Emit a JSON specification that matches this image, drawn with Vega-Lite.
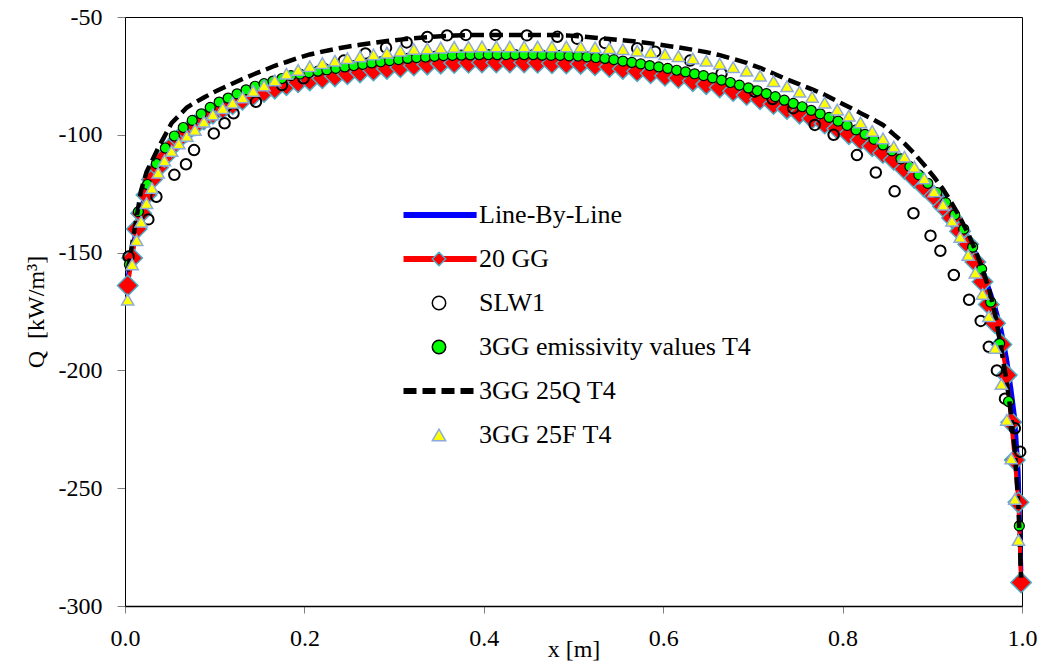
{
  "$schema": "https://vega.github.io/schema/vega-lite/v6.json",
  "width": 897,
  "height": 589,
  "autosize": {"type": "none"},
  "padding": {"left": 125, "top": 17, "right": 22, "bottom": 56},
  "background": "white",
  "config": {
    "font": "Liberation Serif",
    "view": {"stroke": "#000000", "strokeWidth": 1},
    "axis": {
      "grid": false,
      "domainColor": "#000000",
      "tickColor": "#808080",
      "labelColor": "#000000",
      "titleColor": "#000000",
      "labelFont": "Liberation Serif",
      "titleFont": "Liberation Serif",
      "labelFontSize": 24,
      "titleFontSize": 24,
      "titleFontWeight": "normal",
      "labelFlush": false
    }
  },
  "datasets": {
    "grid": [
      {"x":0.003,"lbl":-161,"gg":-164,"q25":-158,"f25":-170},
      {"x":0.008,"lbl":-150,"gg":-152.3,"q25":-146.3,"f25":-155},
      {"x":0.013,"lbl":-138,"gg":-140,"q25":-134.9,"f25":-144.7},
      {"x":0.018,"lbl":-131.3,"gg":-133.3,"q25":-123.5,"f25":-136.9},
      {"x":0.024,"lbl":-123.5,"gg":-125.5,"q25":-115.8,"f25":-129},
      {"x":0.030,"lbl":-117,"gg":-119,"q25":-111.1,"f25":-122.6},
      {"x":0.037,"lbl":-111.9,"gg":-113.9,"q25":-105.6,"f25":-116.1},
      {"x":0.044,"lbl":-107.4,"gg":-109.4,"q25":-100.7,"f25":-110.9},
      {"x":0.052,"lbl":-103,"gg":-105,"q25":-95,"f25":-106.9},
      {"x":0.060,"lbl":-99.7,"gg":-101.7,"q25":-91.9,"f25":-103.7},
      {"x":0.069,"lbl":-96.7,"gg":-98.7,"q25":-88.4,"f25":-100.5},
      {"x":0.078,"lbl":-94,"gg":-96,"q25":-86.3,"f25":-97.9},
      {"x":0.088,"lbl":-91.5,"gg":-93.5,"q25":-84.2,"f25":-94.4},
      {"x":0.098,"lbl":-89,"gg":-91,"q25":-82.1,"f25":-91.4},
      {"x":0.109,"lbl":-86.9,"gg":-88.9,"q25":-80.1,"f25":-88.7},
      {"x":0.120,"lbl":-85,"gg":-87,"q25":-78.2,"f25":-86.4},
      {"x":0.131,"lbl":-83.1,"gg":-85.1,"q25":-76.3,"f25":-84.1},
      {"x":0.143,"lbl":-81.2,"gg":-83.2,"q25":-74.4,"f25":-81.4},
      {"x":0.155,"lbl":-79.8,"gg":-81.8,"q25":-72.6,"f25":-79.1},
      {"x":0.167,"lbl":-78.4,"gg":-80.4,"q25":-70.7,"f25":-76.9},
      {"x":0.180,"lbl":-76.9,"gg":-78.9,"q25":-69.1,"f25":-74.1},
      {"x":0.193,"lbl":-75.7,"gg":-77.7,"q25":-67.4,"f25":-72.5},
      {"x":0.206,"lbl":-74.9,"gg":-76.9,"q25":-65.9,"f25":-70.9},
      {"x":0.220,"lbl":-74,"gg":-76,"q25":-64.7,"f25":-69.6},
      {"x":0.234,"lbl":-73.2,"gg":-75.2,"q25":-63.6,"f25":-68.6},
      {"x":0.248,"lbl":-72.3,"gg":-74.3,"q25":-62.6,"f25":-67.5},
      {"x":0.262,"lbl":-71.5,"gg":-73.5,"q25":-61.8,"f25":-66.7},
      {"x":0.277,"lbl":-70.7,"gg":-72.7,"q25":-61,"f25":-65.9},
      {"x":0.292,"lbl":-70,"gg":-72,"q25":-60.2,"f25":-65.1},
      {"x":0.307,"lbl":-69.3,"gg":-71.3,"q25":-59.6,"f25":-64.3},
      {"x":0.322,"lbl":-68.6,"gg":-70.6,"q25":-59,"f25":-63.6},
      {"x":0.337,"lbl":-68.2,"gg":-70.2,"q25":-58.6,"f25":-63.3},
      {"x":0.352,"lbl":-67.8,"gg":-69.8,"q25":-58.2,"f25":-63},
      {"x":0.367,"lbl":-67.5,"gg":-69.5,"q25":-57.9,"f25":-62.7},
      {"x":0.383,"lbl":-67.4,"gg":-69.4,"q25":-57.7,"f25":-62.6},
      {"x":0.398,"lbl":-67.3,"gg":-69.3,"q25":-57.6,"f25":-62.5},
      {"x":0.414,"lbl":-67.3,"gg":-69.3,"q25":-57.6,"f25":-62.5},
      {"x":0.429,"lbl":-67.3,"gg":-69.3,"q25":-57.6,"f25":-62.5},
      {"x":0.445,"lbl":-67.3,"gg":-69.3,"q25":-57.6,"f25":-62.5},
      {"x":0.460,"lbl":-67.4,"gg":-69.4,"q25":-57.6,"f25":-62.5},
      {"x":0.476,"lbl":-67.6,"gg":-69.6,"q25":-57.6,"f25":-62.5},
      {"x":0.492,"lbl":-67.7,"gg":-69.7,"q25":-57.8,"f25":-62.5},
      {"x":0.508,"lbl":-67.9,"gg":-69.9,"q25":-58.2,"f25":-62.6},
      {"x":0.524,"lbl":-68.5,"gg":-70.5,"q25":-58.8,"f25":-62.9},
      {"x":0.540,"lbl":-69.2,"gg":-71.2,"q25":-59.3,"f25":-63.2},
      {"x":0.555,"lbl":-70,"gg":-72,"q25":-59.9,"f25":-63.7},
      {"x":0.571,"lbl":-71,"gg":-73,"q25":-60.5,"f25":-64.3},
      {"x":0.586,"lbl":-71.9,"gg":-73.9,"q25":-61.2,"f25":-64.9},
      {"x":0.602,"lbl":-72.9,"gg":-74.9,"q25":-62.1,"f25":-65.8},
      {"x":0.617,"lbl":-73.9,"gg":-75.9,"q25":-62.9,"f25":-66.6},
      {"x":0.633,"lbl":-75.2,"gg":-77.2,"q25":-63.9,"f25":-67.6},
      {"x":0.648,"lbl":-76.5,"gg":-78.5,"q25":-64.9,"f25":-68.6},
      {"x":0.663,"lbl":-77.9,"gg":-79.9,"q25":-66.2,"f25":-69.8},
      {"x":0.678,"lbl":-79.4,"gg":-81.4,"q25":-67.8,"f25":-71.3},
      {"x":0.693,"lbl":-81.1,"gg":-83.1,"q25":-69.5,"f25":-72.8},
      {"x":0.708,"lbl":-82.9,"gg":-84.9,"q25":-71.6,"f25":-74.9},
      {"x":0.723,"lbl":-84.9,"gg":-86.9,"q25":-74,"f25":-77.2},
      {"x":0.738,"lbl":-87,"gg":-89,"q25":-76.5,"f25":-79.4},
      {"x":0.752,"lbl":-89,"gg":-91,"q25":-78.6,"f25":-81.7},
      {"x":0.766,"lbl":-91.1,"gg":-93.1,"q25":-80.7,"f25":-83.9},
      {"x":0.780,"lbl":-93.2,"gg":-95.2,"q25":-83,"f25":-86.4},
      {"x":0.794,"lbl":-95.3,"gg":-97.3,"q25":-85.7,"f25":-89.3},
      {"x":0.807,"lbl":-97.7,"gg":-99.7,"q25":-88.2,"f25":-91.9},
      {"x":0.820,"lbl":-100.1,"gg":-102.1,"q25":-90.8,"f25":-94.8},
      {"x":0.833,"lbl":-102.8,"gg":-104.8,"q25":-93.3,"f25":-98.4},
      {"x":0.845,"lbl":-105.7,"gg":-107.7,"q25":-95.8,"f25":-101.5},
      {"x":0.857,"lbl":-108.6,"gg":-110.6,"q25":-99.8,"f25":-105},
      {"x":0.869,"lbl":-112.5,"gg":-114.5,"q25":-103.7,"f25":-109.3},
      {"x":0.880,"lbl":-116.3,"gg":-118.3,"q25":-108,"f25":-113.6},
      {"x":0.891,"lbl":-120.1,"gg":-122.1,"q25":-112.8,"f25":-118.5},
      {"x":0.902,"lbl":-124,"gg":-126,"q25":-118,"f25":-124},
      {"x":0.912,"lbl":-128.4,"gg":-130.4,"q25":-123.1,"f25":-129.7},
      {"x":0.922,"lbl":-133.3,"gg":-135.3,"q25":-129.2,"f25":-136.5},
      {"x":0.931,"lbl":-138.9,"gg":-140.9,"q25":-135.2,"f25":-143.4},
      {"x":0.940,"lbl":-144.5,"gg":-146.5,"q25":-142,"f25":-151},
      {"x":0.948,"lbl":-150,"gg":-154,"q25":-149,"f25":-158.5},
      {"x":0.956,"lbl":-157,"gg":-162.4,"q25":-157,"f25":-167.5},
      {"x":0.963,"lbl":-165,"gg":-172,"q25":-165.3,"f25":-177},
      {"x":0.970,"lbl":-173,"gg":-180,"q25":-176,"f25":-190.5},
      {"x":0.977,"lbl":-183,"gg":-189,"q25":-191.2,"f25":-205.8},
      {"x":0.983,"lbl":-195,"gg":-202,"q25":-205,"f25":-221},
      {"x":0.988,"lbl":-208,"gg":-222,"q25":-219.3,"f25":-237.4},
      {"x":0.992,"lbl":-220,"gg":-238,"q25":-234,"f25":-254.6},
      {"x":0.996,"lbl":-243,"gg":-256,"q25":-257.7,"f25":-272},
      {"x":0.999,"lbl":-285,"gg":-290,"q25":-288,"f25":null}
    ],
    "green": [
      {"x":0.005,"q":-155},{"x":0.015,"q":-132.6},{"x":0.025,"q":-121.1},{"x":0.035,"q":-112.2},{"x":0.045,"q":-105.6},
      {"x":0.055,"q":-100.5},{"x":0.065,"q":-96.9},{"x":0.075,"q":-93.9},{"x":0.085,"q":-91.1},{"x":0.095,"q":-88.4},
      {"x":0.105,"q":-86.1},{"x":0.115,"q":-84.4},{"x":0.125,"q":-82.6},{"x":0.135,"q":-80.9},{"x":0.145,"q":-79.4},
      {"x":0.155,"q":-78.3},{"x":0.165,"q":-77.2},{"x":0.175,"q":-76.1},{"x":0.185,"q":-74.9},{"x":0.195,"q":-74.2},
      {"x":0.205,"q":-73.6},{"x":0.215,"q":-73},{"x":0.225,"q":-72.4},{"x":0.235,"q":-71.8},{"x":0.245,"q":-71.2},
      {"x":0.255,"q":-70.6},{"x":0.265,"q":-70.1},{"x":0.275,"q":-69.5},{"x":0.285,"q":-69},{"x":0.295,"q":-68.5},
      {"x":0.305,"q":-68.1},{"x":0.315,"q":-67.6},{"x":0.325,"q":-67.2},{"x":0.335,"q":-67},{"x":0.345,"q":-66.7},
      {"x":0.355,"q":-66.4},{"x":0.365,"q":-66.3},{"x":0.375,"q":-66.2},{"x":0.385,"q":-66.1},{"x":0.395,"q":-66},
      {"x":0.405,"q":-66},{"x":0.415,"q":-66},{"x":0.425,"q":-66},{"x":0.435,"q":-66},{"x":0.445,"q":-66},
      {"x":0.455,"q":-66},{"x":0.465,"q":-66.2},{"x":0.475,"q":-66.3},{"x":0.485,"q":-66.3},{"x":0.495,"q":-66.5},
      {"x":0.505,"q":-66.6},{"x":0.515,"q":-66.9},{"x":0.525,"q":-67.2},{"x":0.535,"q":-67.6},{"x":0.545,"q":-68.1},
      {"x":0.555,"q":-68.7},{"x":0.565,"q":-69.3},{"x":0.575,"q":-69.9},{"x":0.585,"q":-70.6},{"x":0.595,"q":-71.2},
      {"x":0.605,"q":-71.8},{"x":0.615,"q":-72.6},{"x":0.625,"q":-73.3},{"x":0.635,"q":-74.1},{"x":0.645,"q":-74.9},
      {"x":0.655,"q":-75.8},{"x":0.665,"q":-76.8},{"x":0.675,"q":-77.8},{"x":0.685,"q":-78.9},{"x":0.695,"q":-80.1},
      {"x":0.705,"q":-81.3},{"x":0.715,"q":-82.5},{"x":0.725,"q":-83.8},{"x":0.735,"q":-85.3},{"x":0.745,"q":-86.7},
      {"x":0.755,"q":-88.1},{"x":0.765,"q":-89.6},{"x":0.775,"q":-91.1},{"x":0.785,"q":-92.6},{"x":0.795,"q":-94.2},
      {"x":0.805,"q":-96},{"x":0.815,"q":-97.9},{"x":0.825,"q":-99.8},{"x":0.835,"q":-101.9},{"x":0.845,"q":-104.3},
      {"x":0.855,"q":-106.8},{"x":0.865,"q":-110.2},{"x":0.875,"q":-113.5},{"x":0.885,"q":-117},{"x":0.895,"q":-120.6},
      {"x":0.905,"q":-124.5},{"x":0.915,"q":-128.8},{"x":0.925,"q":-134},{"x":0.935,"q":-140},{"x":0.945,"q":-147.7},
      {"x":0.955,"q":-157},{"x":0.965,"q":-171},{"x":0.975,"q":-188.6},{"x":0.985,"q":-213.2},{"x":0.997,"q":-266}
    ],
    "slw": [
      {"x":0.004,"q":-151.7},{"x":0.026,"q":-135.9},{"x":0.035,"q":-126.3},{"x":0.055,"q":-117},{"x":0.068,"q":-112.5},
      {"x":0.077,"q":-106.5},{"x":0.099,"q":-99.4},{"x":0.111,"q":-95.1},{"x":0.121,"q":-90.9},{"x":0.146,"q":-86},
      {"x":0.175,"q":-78.9},{"x":0.199,"q":-76},{"x":0.221,"q":-71.8},{"x":0.244,"q":-68.5},{"x":0.268,"q":-65.5},
      {"x":0.291,"q":-63},{"x":0.314,"q":-60.8},{"x":0.337,"q":-58.5},{"x":0.359,"q":-57.8},{"x":0.380,"q":-57.6},
      {"x":0.413,"q":-57.6},{"x":0.448,"q":-57.8},{"x":0.482,"q":-58.4},{"x":0.504,"q":-59.2},{"x":0.535,"q":-61},
      {"x":0.571,"q":-63.3},{"x":0.591,"q":-64.7},{"x":0.630,"q":-68.5},{"x":0.665,"q":-74},{"x":0.702,"q":-81.7},
      {"x":0.722,"q":-84.8},{"x":0.745,"q":-88.7},{"x":0.769,"q":-95.8},{"x":0.790,"q":-100},{"x":0.816,"q":-108.6},
      {"x":0.837,"q":-116},{"x":0.858,"q":-124},{"x":0.879,"q":-133.3},{"x":0.898,"q":-142.8},{"x":0.909,"q":-149.2},
      {"x":0.924,"q":-159.5},{"x":0.941,"q":-170},{"x":0.954,"q":-179},{"x":0.963,"q":-190},{"x":0.972,"q":-200},
      {"x":0.981,"q":-212},{"x":0.992,"q":-224.6},{"x":0.998,"q":-234.5}
    ]
  },
  "encoding": {
    "x": {
      "field": "x", "type": "quantitative",
      "scale": {"domain": [0, 1], "nice": false, "zero": false},
      "axis": {
        "values": [0, 0.2, 0.4, 0.6, 0.8, 1],
        "format": ".1f",
        "tickSize": 7,
        "labelPadding": 13,
        "domainWidth": 1.5,
        "title": "x [m]",
        "titleX": 448.5,
        "titleY": 50,
        "titleBaseline": "alphabetic"
      }
    },
    "y": {
      "field": "q", "type": "quantitative",
      "scale": {"domain": [-300, -50], "nice": false, "zero": false},
      "axis": {
        "values": [-300, -250, -200, -150, -100, -50],
        "labelExpr": "replace(datum.label, '−', '-')",
        "tickSize": 8,
        "labelPadding": 15,
        "title": "Q\u00a0 [kW/m³]",
        "titleAngle": -90,
        "titleX": -89,
        "titleY": 294.5,
        "titleAlign": "center",
        "titleBaseline": "middle"
      }
    }
  },
  "layer": [
    {
      "data": {"name": "grid"},
      "transform": [{"fold": ["lbl"], "as": ["s", "q"]}],
      "mark": {"type": "line", "strokeWidth": 4.5, "strokeCap": "round", "strokeJoin": "round"},
      "encoding": {
        "stroke": {
          "datum": "Line-By-Line", "type": "nominal",
          "scale": {"domain": ["Line-By-Line", "20 GG", "SLW1", "3GG emissivity values T4", "3GG 25Q T4", "3GG 25F T4", "_"],
                    "range": ["#0000ff", "#ff0000", "transparent", "transparent", "#000000", "transparent", "transparent"]},
          "legend": {
            "orient": "none", "legendX": 265.5, "legendY": 185, "title": null, "direction": "vertical",
            "values": ["Line-By-Line", "20 GG", "SLW1", "3GG emissivity values T4", "3GG 25Q T4", "3GG 25F T4"],
            "symbolType": "M0,0L8.6,0", "symbolSize": 289, "symbolStrokeWidth": 6, "padding": 0,
            "labelFont": "Liberation Serif", "labelFontSize": 26, "labelColor": "#000000",
            "labelOffset": 62.5, "labelLimit": 0, "rowPadding": 18
          }
        },
        "strokeDash": {
          "datum": "Line-By-Line", "type": "nominal",
          "scale": {"domain": ["Line-By-Line", "20 GG", "SLW1", "3GG emissivity values T4", "3GG 25Q T4", "3GG 25F T4", "_"],
                    "range": [[1, 0], [1, 0], [1, 0], [1, 0], [13, 6], [1, 0], [1, 0]]}
        }
      }
    },
    {
      "data": {"name": "grid"},
      "transform": [{"fold": ["gg"], "as": ["s", "q"]}],
      "mark": {"type": "line", "strokeWidth": 4, "strokeCap": "round", "strokeJoin": "round"},
      "encoding": {
        "stroke": {"datum": "20 GG", "type": "nominal"},
        "strokeDash": {"datum": "20 GG", "type": "nominal"}
      }
    },
    {
      "data": {"name": "grid"},
      "transform": [{"fold": ["gg"], "as": ["s", "q"]}],
      "mark": {"type": "point", "filled": false, "strokeWidth": 1.5, "size": 420, "opacity": 1},
      "encoding": {
        "fill": {
          "datum": "20 GG", "type": "nominal",
          "scale": {"domain": ["Line-By-Line", "20 GG", "SLW1", "3GG emissivity values T4", "3GG 25Q T4", "3GG 25F T4"],
                    "range": ["transparent", "#ff0000", "transparent", "#00ff00", "transparent", "#ffff00"]},
          "legend": {
            "orient": "none", "legendX": 301, "legendY": 185, "title": null, "direction": "vertical",
            "values": ["Line-By-Line", "20 GG", "SLW1", "3GG emissivity values T4", "3GG 25Q T4", "3GG 25F T4"],
            "symbolSize": 180, "symbolStrokeWidth": 1.5, "symbolOpacity": 1, "padding": 0,
            "labelFont": "Liberation Serif", "labelFontSize": 26, "labelColor": "transparent",
            "labelExpr": "'\u00a0'",
            "labelOffset": 40, "labelLimit": 0, "rowPadding": 18
          }
        },
        "color": {
          "datum": "20 GG", "type": "nominal",
          "scale": {"domain": ["Line-By-Line", "20 GG", "SLW1", "3GG emissivity values T4", "3GG 25Q T4", "3GG 25F T4"],
                    "range": ["transparent", "#4bacc6", "#000000", "#000000", "transparent", "#8eaadb"]}
        },
        "shape": {
          "datum": "20 GG", "type": "nominal",
          "scale": {"domain": ["Line-By-Line", "20 GG", "SLW1", "3GG emissivity values T4", "3GG 25Q T4", "3GG 25F T4"],
                    "range": ["circle", "diamond", "circle", "circle", "circle", "triangle-up"]}
        }
      }
    },
    {
      "data": {"name": "slw"},
      "mark": {"type": "point", "filled": false, "strokeWidth": 2, "size": 110, "opacity": 1},
      "encoding": {
        "fill": {"datum": "SLW1", "type": "nominal"},
        "color": {"datum": "SLW1", "type": "nominal"},
        "shape": {"datum": "SLW1", "type": "nominal"}
      }
    },
    {
      "data": {"name": "green"},
      "mark": {"type": "point", "filled": false, "strokeWidth": 1.2, "size": 100, "opacity": 1},
      "encoding": {
        "fill": {"datum": "3GG emissivity values T4", "type": "nominal"},
        "color": {"datum": "3GG emissivity values T4", "type": "nominal"},
        "shape": {"datum": "3GG emissivity values T4", "type": "nominal"}
      }
    },
    {
      "data": {"name": "grid"},
      "transform": [{"fold": ["q25"], "as": ["s", "q"]}],
      "mark": {"type": "line", "strokeWidth": 4.5, "strokeCap": "butt"},
      "encoding": {
        "stroke": {"datum": "3GG 25Q T4", "type": "nominal"},
        "strokeDash": {"datum": "3GG 25Q T4", "type": "nominal"}
      }
    },
    {
      "data": {"name": "grid"},
      "transform": [{"fold": ["f25"], "as": ["s", "q"]}, {"filter": "isValid(datum.q)"}],
      "mark": {"type": "point", "filled": false, "strokeWidth": 1.5, "size": 150, "opacity": 1},
      "encoding": {
        "fill": {"datum": "3GG 25F T4", "type": "nominal"},
        "color": {"datum": "3GG 25F T4", "type": "nominal"},
        "shape": {"datum": "3GG 25F T4", "type": "nominal"}
      }
    }
  ]
}
